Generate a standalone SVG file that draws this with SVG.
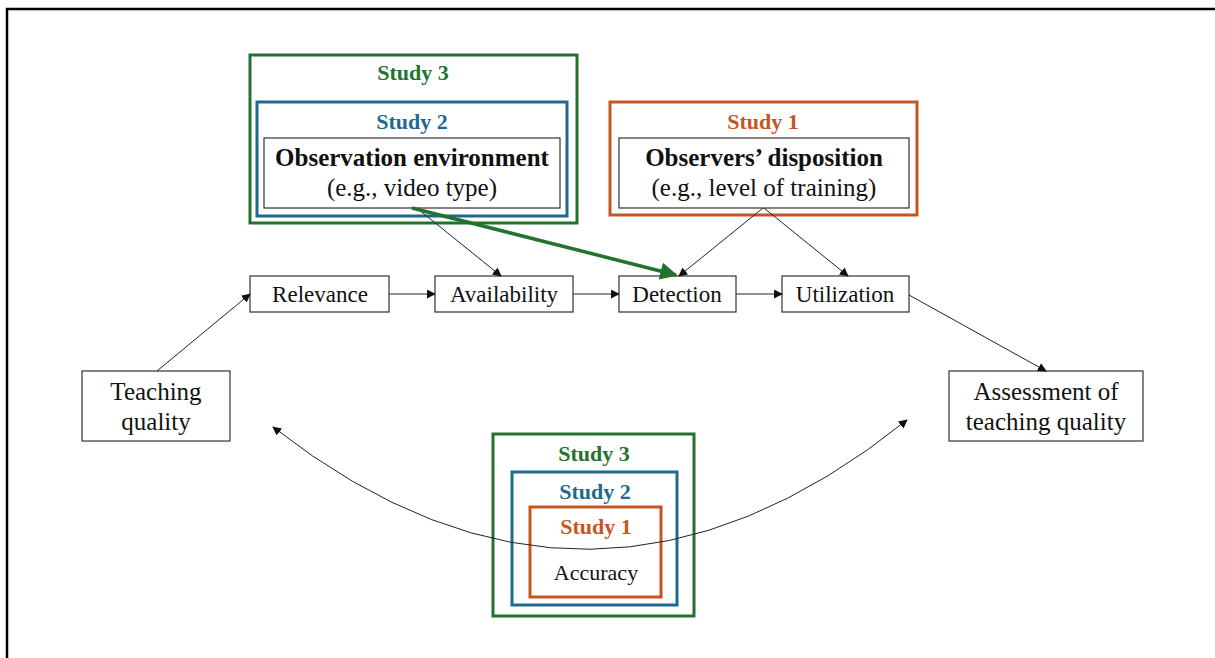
<svg xmlns="http://www.w3.org/2000/svg" width="1215" height="658" viewBox="0 0 1215 658">
  <defs>
    <style>
      .node { fill: #fff; stroke: #333; stroke-width: 1.2; }
      .txt { font-family: "Liberation Serif", "Times New Roman", serif; font-size: 23px; fill: #111; text-anchor: middle; }
      .big { font-size: 25px; }
      .bold { font-weight: bold; }
      .study { font-family: "Liberation Serif", "Times New Roman", serif; font-weight: bold; font-size: 22px; text-anchor: middle; }
      .s1 { stroke: #c5561f; fill: none; stroke-width: 3; }
      .s2 { stroke: #1e6a8e; fill: none; stroke-width: 3; }
      .s3 { stroke: #23722f; fill: none; stroke-width: 3; }
      .t1 { fill: #c5561f; }
      .t2 { fill: #1e6a8e; }
      .t3 { fill: #23722f; }
      .conn { stroke: #222; stroke-width: 1; fill: none; }
    </style>
    <marker id="arr" viewBox="0 0 10 10" refX="9" refY="5" markerWidth="9" markerHeight="9" markerUnits="userSpaceOnUse" orient="auto-start-reverse">
      <path d="M0,0 L10,5 L0,10 z" fill="#111"/>
    </marker>
    <marker id="arrG" viewBox="0 0 10 10" refX="9" refY="5" markerWidth="5" markerHeight="5" orient="auto">
      <path d="M0,0 L10,5 L0,10 z" fill="#23722f"/>
    </marker>
  </defs>

  <rect width="1215" height="658" fill="#fff"/>
  <!-- page frame -->
  <rect x="7" y="9" width="1230" height="670" fill="none" stroke="#000" stroke-width="2.5"/>

  <!-- observation environment, studies 2 and 3 -->
  <g id="env">
    <rect class="s3" x="250" y="55" width="327" height="168"/>
    <text class="study t3" x="413" y="80">Study 3</text>
    <rect class="s2" x="257" y="102" width="310" height="114"/>
    <text class="study t2" x="412" y="129">Study 2</text>
    <rect class="node" x="264" y="138" width="296" height="70"/>
    <text class="txt big bold" x="412" y="166">Observation environment</text>
    <text class="txt big" x="412" y="196">(e.g., video type)</text>
  </g>

  <!-- observers' disposition, study 1 -->
  <g id="disposition">
    <rect class="s1" x="610" y="102" width="307" height="113"/>
    <text class="study t1" x="763" y="129">Study 1</text>
    <rect class="node" x="619" y="138" width="290" height="70"/>
    <text class="txt big bold" x="764" y="166">Observers’ disposition</text>
    <text class="txt big" x="764" y="196">(e.g., level of training)</text>
  </g>

  <g id="relevance">
    <rect class="node" x="250" y="276" width="139" height="36"/>
    <text class="txt" x="320" y="302">Relevance</text>
  </g>
  <g id="availability">
    <rect class="node" x="435" y="276" width="138" height="36"/>
    <text class="txt" x="504" y="302">Availability</text>
  </g>
  <g id="detection">
    <rect class="node" x="619" y="276" width="117" height="36"/>
    <text class="txt" x="677" y="302">Detection</text>
  </g>
  <g id="utilization">
    <rect class="node" x="782" y="276" width="127" height="36"/>
    <text class="txt" x="845" y="302">Utilization</text>
  </g>
  <g id="teaching">
    <rect class="node" x="82" y="371" width="148" height="70"/>
    <text class="txt big" x="156" y="400">Teaching</text>
    <text class="txt big" x="156" y="430">quality</text>
  </g>
  <g id="assessment">
    <rect class="node" x="949" y="371" width="194" height="70"/>
    <text class="txt big" x="1046" y="400">Assessment of</text>
    <text class="txt big" x="1046" y="430">teaching quality</text>
  </g>

  <!-- accuracy, studies 1–3 -->
  <g id="accuracy">
    <rect class="s3" x="493" y="434" width="201" height="182"/>
    <text class="study t3" x="594" y="461">Study 3</text>
    <rect class="s2" x="512" y="472" width="165" height="133"/>
    <text class="study t2" x="595" y="499">Study 2</text>
    <rect class="s1" x="530" y="507" width="131" height="90"/>
    <text class="study t1" x="596" y="534">Study 1</text>
    <text class="txt" x="596" y="580" style="font-size:22px">Accuracy</text>
  </g>

  <g id="connectors">
    <line class="conn" x1="157" y1="371" x2="250" y2="294" marker-end="url(#arr)"/>
    <line class="conn" x1="389" y1="294" x2="435" y2="294" marker-end="url(#arr)"/>
    <line class="conn" x1="573" y1="294" x2="619" y2="294" marker-end="url(#arr)"/>
    <line class="conn" x1="736" y1="294" x2="782" y2="294" marker-end="url(#arr)"/>
    <line class="conn" x1="909" y1="295" x2="1046" y2="371" marker-end="url(#arr)"/>
    <line class="conn" x1="418" y1="209" x2="501" y2="276" marker-end="url(#arr)"/>
    <line class="conn" x1="763" y1="208" x2="679" y2="276" marker-end="url(#arr)"/>
    <line class="conn" x1="764" y1="208" x2="848" y2="276" marker-end="url(#arr)"/>
    <line x1="412" y1="208" x2="676" y2="275" stroke="#23722f" stroke-width="3.5" marker-end="url(#arrG)"/>
    <path class="conn" d="M273,427 Q590,675 907,420" marker-start="url(#arr)" marker-end="url(#arr)"/>
  </g>
</svg>
